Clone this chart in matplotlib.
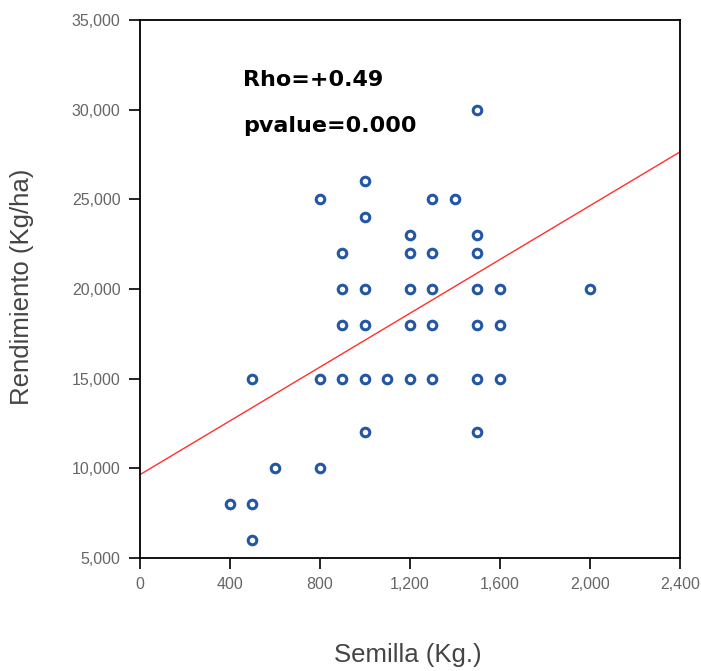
import numpy as np
import matplotlib.pyplot as plt
from matplotlib.ticker import FuncFormatter

# data
semilla = [1500,
           1000,
           800, 1300, 1400,
           1000,
           1200, 1500,
           900, 1200, 1300, 1500,
           900, 1000, 1200, 1300, 1500, 1600, 2000,
           900, 1000, 1200, 1300, 1500, 1600,
           500, 800, 900, 1000, 1100, 1200, 1300, 1500, 1600,
           1000, 1500,
           600, 800,
           400, 500,
           500]
rendimiento = [30000,
               26000,
               25000, 25000, 25000,
               24000,
               23000, 23000,
               22000, 22000, 22000, 22000,
               20000, 20000, 20000, 20000, 20000, 20000, 20000,
               18000, 18000, 18000, 18000, 18000, 18000,
               15000, 15000, 15000, 15000, 15000, 15000, 15000, 15000, 15000,
               12000, 12000,
               10000, 10000,
               8000, 8000,
               6000]

# fitted line
fit_intercept = 9650
fit_slope = 7.5

plt.rcParams['font.family'] = ['Liberation Sans', 'DejaVu Sans']

W, H = 701, 671
fig = plt.figure(figsize=(W / 100, H / 100), dpi=100)
ax = fig.add_axes([0.1997, 0.1684, 0.7703, 0.8016])

xl = np.array([0, 2400])
ax.plot(xl, fit_intercept + fit_slope * xl, color='#ff3030', lw=1.0, zorder=2)

ax.scatter(semilla, rendimiento, s=38, facecolors='white', edgecolors='#2456a6',
           linewidths=2.2, zorder=3)

ax.set_xlim(0, 2400)
ax.set_ylim(5000, 35000)
ax.set_xticks(np.arange(0, 2401, 400))
ax.set_yticks(np.arange(5000, 35001, 5000))
fmt = FuncFormatter(lambda v, p: '{:,.0f}'.format(v))
ax.xaxis.set_major_formatter(fmt)
ax.yaxis.set_major_formatter(fmt)
ax.tick_params(direction='out', length=8, width=1.2, colors='black',
               labelcolor='#666666', labelsize=11.5, pad=6)

for sp in ax.spines.values():
    sp.set_linewidth(1.3)

fig.text(408 / W, 1 - 655 / H, 'Semilla (Kg.)', fontsize=18.5, color='#444444',
         ha='center', va='center')
fig.text(22 / W, 1 - 287 / H, 'Rendimiento (Kg/ha)', fontsize=18.5, color='#444444',
         ha='center', va='center', rotation=90)

fig.text(243 / W, 1 - 80 / H, 'Rho=+0.49', family='DejaVu Sans', fontsize=16,
         fontweight='heavy', va='center', ha='left')
fig.text(243 / W, 1 - 126 / H, 'pvalue=0.000', family='DejaVu Sans', fontsize=16,
         fontweight='heavy', va='center', ha='left')

fig.savefig('out.png', dpi=100)
